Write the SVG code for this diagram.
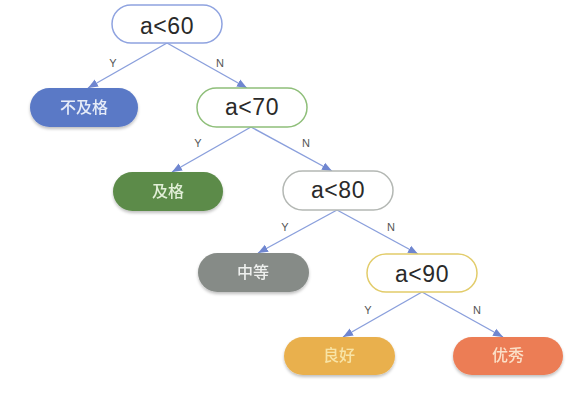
<svg xmlns="http://www.w3.org/2000/svg" width="586" height="401" viewBox="0 0 586 401">
<defs>
<style>
.dec{fill:#fff;stroke-width:1.5}
.leaf{stroke:none}
.t{font-family:"Liberation Sans",Arial,sans-serif;font-size:23px;letter-spacing:0.6px;fill:#2a2a2a;text-anchor:middle}
.c{font-family:"Noto Sans CJK SC","Noto Sans",sans-serif;font-size:16px;text-anchor:middle;font-weight:500}
.yn{font-family:"Liberation Sans",Arial,sans-serif;font-size:11px;fill:#555;text-anchor:middle}
.e{stroke:#8a9fdc;stroke-width:1.4;fill:none;marker-end:url(#ah)}
</style>
<marker id="ah" markerUnits="userSpaceOnUse" markerWidth="10" markerHeight="10" viewBox="0 0 10 10" refX="10" refY="5" orient="auto">
<path d="M0,1 L10,5 L0,9 Z" fill="#6f86d0"/>
</marker>
<filter id="sh" x="-10%" y="-20%" width="120%" height="150%">
<feGaussianBlur in="SourceAlpha" stdDeviation="1.5"/>
<feOffset dx="0" dy="2" result="b"/>
<feFlood flood-color="#000" flood-opacity="0.25"/>
<feComposite in2="b" operator="in"/>
<feMerge><feMergeNode/><feMergeNode in="SourceGraphic"/></feMerge>
</filter>
</defs>
<rect width="586" height="401" fill="#fff"/>
<g id="connectors">
<line class="e" x1="167" y1="43" x2="88" y2="88"/>
<line class="e" x1="167" y1="43" x2="247" y2="88"/>
<line class="e" x1="251" y1="127" x2="172" y2="172"/>
<line class="e" x1="251" y1="127" x2="332" y2="171"/>
<line class="e" x1="337" y1="210" x2="258" y2="253"/>
<line class="e" x1="337" y1="210" x2="418" y2="254"/>
<line class="e" x1="422" y1="292" x2="343" y2="337"/>
<line class="e" x1="422" y1="292" x2="503" y2="337"/>
<text class="yn" x="113" y="67">Y</text>
<text class="yn" x="220" y="67">N</text>
<text class="yn" x="198" y="147">Y</text>
<text class="yn" x="306" y="147">N</text>
<text class="yn" x="285" y="231">Y</text>
<text class="yn" x="391" y="231">N</text>
<text class="yn" x="368" y="314">Y</text>
<text class="yn" x="477" y="314">N</text>
</g>
<g id="n60">
<rect class="dec" x="112" y="5" width="110" height="38" rx="19" stroke="#8fa3e0"/>
<text class="t" x="167" y="34">a&lt;60</text>
</g>
<g id="nfail" filter="url(#sh)">
<rect class="leaf" x="30" y="88" width="108" height="39" rx="19.5" fill="#5a79c6"/>
<text class="c" x="84" y="113" fill="#e6ecf8">不及格</text>
</g>
<g id="n70">
<rect class="dec" x="197" y="88" width="110" height="39" rx="19.5" stroke="#8fbf7a"/>
<text class="t" x="252" y="115">a&lt;70</text>
</g>
<g id="npass" filter="url(#sh)">
<rect class="leaf" x="113" y="172" width="110" height="39" rx="19.5" fill="#5b8b48"/>
<text class="c" x="168" y="197" fill="#e2efd8">及格</text>
</g>
<g id="n80">
<rect class="dec" x="283" y="171" width="110" height="39" rx="19.5" stroke="#b4b8b4"/>
<text class="t" x="338" y="198">a&lt;80</text>
</g>
<g id="nmid" filter="url(#sh)">
<rect class="leaf" x="198" y="253" width="111" height="39" rx="19.5" fill="#868b87"/>
<text class="c" x="253" y="278" fill="#eef0ee">中等</text>
</g>
<g id="n90">
<rect class="dec" x="367" y="254" width="110" height="38" rx="19" stroke="#e2cc6a"/>
<text class="t" x="422" y="282">a&lt;90</text>
</g>
<g id="ngood" filter="url(#sh)">
<rect class="leaf" x="284" y="337" width="111" height="38" rx="19" fill="#e9b04e"/>
<text class="c" x="339" y="361" fill="#f8e4a6">良好</text>
</g>
<g id="nexc" filter="url(#sh)">
<rect class="leaf" x="453" y="337" width="110" height="38" rx="19" fill="#ec7d55"/>
<text class="c" x="508" y="361" fill="#fbe0c8">优秀</text>
</g>
</svg>
